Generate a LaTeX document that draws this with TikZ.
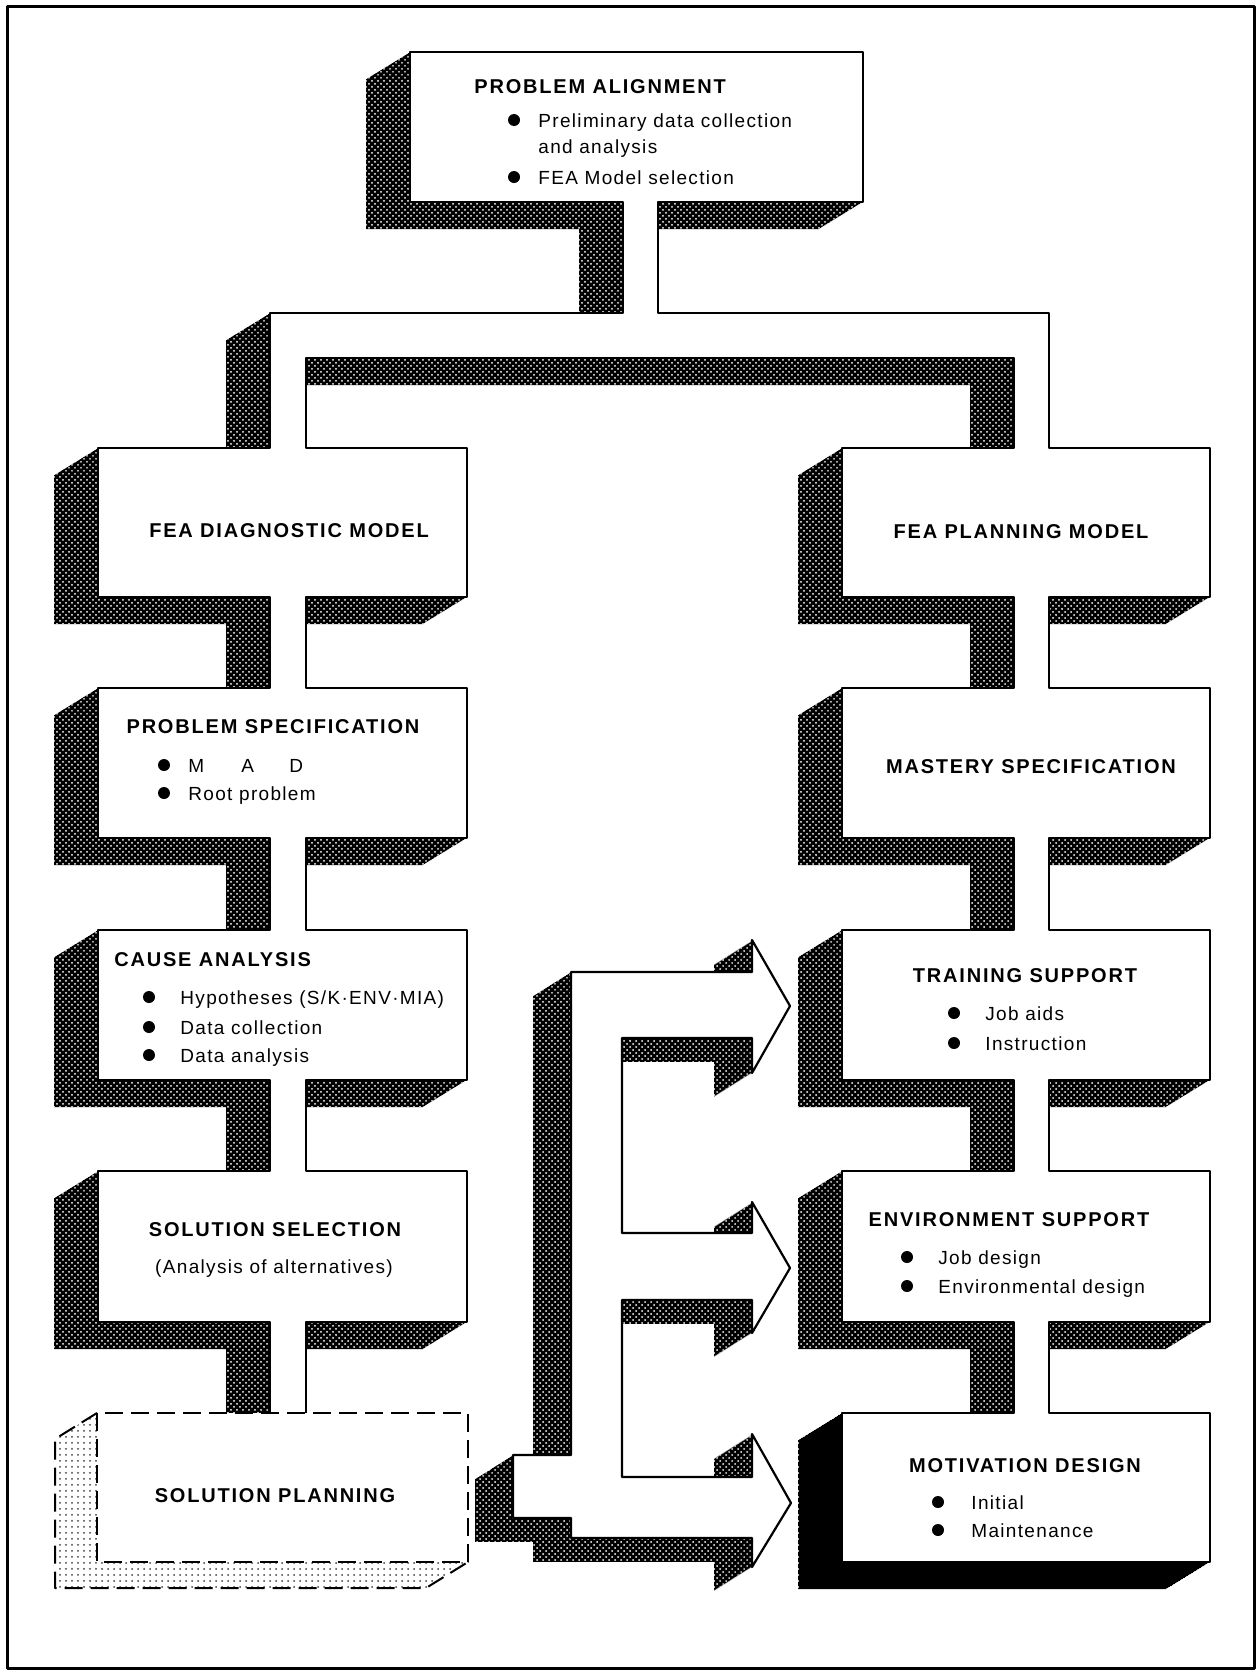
\documentclass[tikz,border=0pt]{standalone}
\usepackage{fontspec}
\setmainfont{Liberation Sans}
\newfontfamily\ttlfont[LetterSpace=9]{Liberation Sans}
\newfontfamily\bdyfont[LetterSpace=7]{Liberation Sans}
\usetikzlibrary{patterns}
\pgfdeclarepatternformonly{halftone}{\pgfqpoint{-0.6pt}{-0.6pt}}{\pgfqpoint{2.1pt}{2.1pt}}{\pgfqpoint{3pt}{3pt}}{%
  \pgfpathcircle{\pgfqpoint{0pt}{0pt}}{0.5pt}%
  \pgfpathcircle{\pgfqpoint{1.5pt}{1.5pt}}{0.5pt}%
  \pgfusepath{fill}}
% main connected solid: problem alignment, T-bar, both columns
\newcommand\pathA[1]{\path[#1]
 (410,52) -- (863,52) -- (863,202) -- (658,202) -- (658,313) -- (1049,313)
 -- (1049,448) -- (1210,448) -- (1210,597) -- (1049,597)
 -- (1049,688) -- (1210,688) -- (1210,838) -- (1049,838)
 -- (1049,930) -- (1210,930) -- (1210,1080) -- (1049,1080)
 -- (1049,1171) -- (1210,1171) -- (1210,1322) -- (1049,1322)
 -- (1049,1413) -- (1210,1413) -- (1210,1562) -- (842,1562) -- (842,1413) -- (1014,1413)
 -- (1014,1322) -- (842,1322) -- (842,1171) -- (1014,1171)
 -- (1014,1080) -- (842,1080) -- (842,930) -- (1014,930)
 -- (1014,838) -- (842,838) -- (842,688) -- (1014,688)
 -- (1014,597) -- (842,597) -- (842,448) -- (1014,448)
 -- (1014,358) -- (306,358) -- (306,448) -- (467,448) -- (467,597) -- (306,597)
 -- (306,688) -- (467,688) -- (467,838) -- (306,838)
 -- (306,930) -- (467,930) -- (467,1080) -- (306,1080)
 -- (306,1171) -- (467,1171) -- (467,1322) -- (306,1322)
 -- (306,1417) -- (270,1417) -- (270,1322) -- (98,1322) -- (98,1171) -- (270,1171)
 -- (270,1080) -- (98,1080) -- (98,930) -- (270,930)
 -- (270,838) -- (98,838) -- (98,688) -- (270,688)
 -- (270,597) -- (98,597) -- (98,448) -- (270,448)
 -- (270,313) -- (623,313) -- (623,202) -- (410,202) -- cycle;}
% arrow bracket
\newcommand\pathE[1]{\path[#1]
 (571,972) -- (752,972) -- (752,940) -- (790,1006) -- (752,1073) -- (752,1038)
 -- (622,1038) -- (622,1233) -- (752,1233) -- (752,1202) -- (790,1268) -- (752,1333) -- (752,1300)
 -- (622,1300) -- (622,1477) -- (752,1477) -- (752,1434) -- (791,1503) -- (752,1567) -- (752,1538)
 -- (571,1538) -- (571,1518) -- (513,1518) -- (513,1455) -- (571,1455) -- cycle;}
\begin{document}
\begin{tikzpicture}[x=0.5pt,y=-0.5pt,
  line join=round,
  face/.style={fill=white,draw=black,line width=1.1pt},
  shade/.style={fill=black,postaction={pattern=halftone,pattern color=white}},
  spdash/.style={draw=black,line width=1pt,dash pattern=on 9pt off 4pt},
  ttl/.style={inner sep=0pt,anchor=base,font={\ttlfont\bfseries\fontsize{10}{12}\selectfont}},
  bdy/.style={inner sep=0pt,anchor=base west,font={\bdyfont\fontsize{9.5}{11}\selectfont}},
  bul/.style={circle,fill=black,inner sep=0pt,minimum size=6pt}]
\useasboundingbox (0,0) rectangle (1258,1671);
\fill[white] (0,0) rectangle (1258,1671);
% frame
\draw[line width=1.5pt] (7,6) rectangle (1254,1668);

% solution planning (dashed, light) extrusion
\fill[pattern=dots,pattern color=black!75] (97,1413) -- (55,1439) -- (55,1588) -- (426,1588) -- (468,1562) -- (97,1562) -- cycle;
\path[spdash] (97,1413) -- (55,1439) -- (55,1588) -- (426,1588) -- (468,1562);

% extrusions
\foreach \k in {0,...,44} { \pathA{shade,shift={(-\k,\k*0.614)}} }
\foreach \k in {0,...,42} { \fill[black,shift={(-\k,\k*0.62)}] (842,1413) rectangle (1210,1562); }
\foreach \k in {0,...,38} { \pathE{shade,shift={(-\k,\k*0.63)}} }

% front faces
\pathA{face}
\pathE{face}
\path[spdash,fill=white] (97,1413) rectangle (468,1562);

% texts
\node[ttl,anchor=base west] (paT) at (474,93) {PROBLEM ALIGNMENT};
\node[bul] (paB1) at (514,120) {};
\node[bdy] (paL1) at (538,127) {Preliminary data collection};
\node[bdy] (paL2) at (538,153) {and analysis};
\node[bul] (paB2) at (514,177) {};
\node[bdy] (paL3) at (538,184) {FEA Model selection};

\node[ttl] (fdT) at (289,537) {FEA DIAGNOSTIC MODEL};
\node[ttl] (fpT) at (1021,538) {FEA PLANNING MODEL};

\node[ttl] (psT) at (273,733) {PROBLEM SPECIFICATION};
\node[bul] (psB1) at (164,765) {};
\node[bdy] (psL1) at (188,772) {\makebox[26.5pt][l]{M}\makebox[24pt][l]{A}D};
\node[bul] (psB2) at (164,793) {};
\node[bdy] (psL2) at (188,800) {Root problem};

\node[ttl] (msT) at (1031,773) {MASTERY SPECIFICATION};

\node[ttl,anchor=base west] (caT) at (114,966) {CAUSE ANALYSIS};
\node[bul] (caB1) at (149,997) {};
\node[bdy] (caL1) at (180,1004) {Hypotheses (S/K·ENV·MIA)};
\node[bul] (caB2) at (149,1027) {};
\node[bdy] (caL2) at (180,1034) {Data collection};
\node[bul] (caB3) at (149,1055) {};
\node[bdy] (caL3) at (180,1062) {Data analysis};

\node[ttl] (tsT) at (1025,982) {TRAINING SUPPORT};
\node[bul] (tsB1) at (954,1013) {};
\node[bdy] (tsL1) at (985,1020) {Job aids};
\node[bul] (tsB2) at (954,1043) {};
\node[bdy] (tsL2) at (985,1050) {Instruction};

\node[ttl] (ssT) at (275,1236) {SOLUTION SELECTION};
\node[bdy,anchor=base] (ssL) at (274,1273) {(Analysis of alternatives)};

\node[ttl] (esT) at (1009,1226) {ENVIRONMENT SUPPORT};
\node[bul] (esB1) at (907,1257) {};
\node[bdy] (esL1) at (938,1264) {Job design};
\node[bul] (esB2) at (907,1286) {};
\node[bdy] (esL2) at (938,1293) {Environmental design};

\node[ttl] (spT) at (275,1502) {SOLUTION PLANNING};

\node[ttl] (mdT) at (1025,1472) {MOTIVATION DESIGN};
\node[bul] (mdB1) at (938,1502) {};
\node[bdy] (mdL1) at (971,1509) {Initial};
\node[bul] (mdB2) at (938,1530) {};
\node[bdy] (mdL2) at (971,1537) {Maintenance};
\end{tikzpicture}
\end{document}
